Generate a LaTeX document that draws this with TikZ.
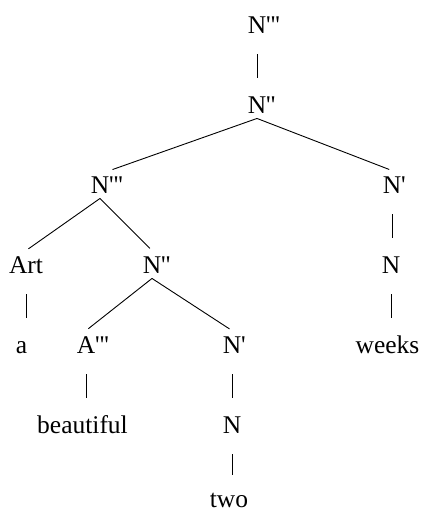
\documentclass[tikz,border=0pt]{standalone}
\usepackage{fontspec}
\newfontfamily\treefont{Liberation Serif}
\usepackage{tikz}

\begin{document}
\begin{tikzpicture}[
            x = 1pt, y = -1pt, % one unit per pixel, y pointing down
            line width = 0.9pt, % line style
            font = \treefont\fontsize{25.5}{30}\selectfont
        ]

        \tikzstyle{cat}=[
            anchor = base,
            inner xsep = 0pt,
            inner ysep = 5pt,
            text height = 17pt,
            text depth = 0pt
        ]
        \tikzstyle{branch}=[shorten > = 3pt]
        \tikzstyle{unary}=[shorten < = 16pt, shorten > = 13pt]

        \useasboundingbox (0,0) rectangle (423,514);

        \node[cat] (nmax) at (257,33) {N\rlap{'''}};
        \node[cat] (nbar) at (257,113) {N\rlap{''}};

        \node[cat] (dp)  at (100,193) {N\rlap{'''}};
        \node[cat] (nb1) at (392,193) {N\rlap{'}};

        \node[cat] (art)   at (26,273)  {Art};
        \node[cat] (nbar2) at (152,273) {N\rlap{''}};
        \node[cat] (n1)    at (391,273) {N};

        \node[cat] (a)     at (21.5,353)  {a};
        \node[cat] (ap)    at (86,353)    {A\rlap{'''}};
        \node[cat] (nb2)   at (232,353)   {N\rlap{'}};
        \node[cat] (weeks) at (387.5,353) {weeks};

        \node[cat] (beautiful) at (82.5,433) {beautiful};
        \node[cat] (n2)        at (232,433)  {N};

        % last word, close to the bottom edge
        \node[cat] (two) at (229,507) {two};

        % branching
        \draw[branch] (nbar.south) -- (dp.north east);
        \draw[branch] (nbar.south) -- (nb1.north);
        \draw[branch] (dp.south) -- (art.north);
        \draw[branch] (dp.south) -- (nbar2.north);
        \draw[branch] (nbar2.south) -- (ap.north);
        \draw[branch] (nbar2.south) -- (nb2.north);

        % single daughters, kept upright
        \draw[unary] (nmax.south) -- (nmax.south |- nbar.north);
        \draw[unary] (nb1.south) -- (nb1.south |- n1.north);
        \draw[unary] (n1.south) -- (n1.south |- weeks.north);
        \draw[unary] (art.south) -- (art.south |- a.north);
        \draw[unary] (ap.south) -- (ap.south |- beautiful.north);
        \draw[unary] (nb2.south) -- (nb2.south |- n2.north);
        \draw[unary, shorten > = 10pt] (n2.south) -- (n2.south |- two.north);
    \end{tikzpicture}
\end{document}
